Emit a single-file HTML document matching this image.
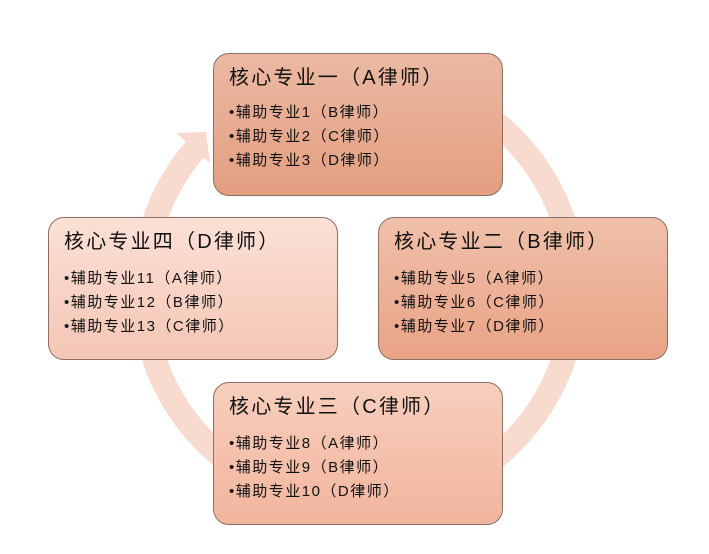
<!DOCTYPE html>
<html><head><meta charset="utf-8"><style>
body{margin:0;width:709px;height:554px;background:#fff;overflow:hidden;position:relative;font-family:"Liberation Sans","Noto Sans CJK SC",sans-serif;color:#111}
.b{position:absolute;width:290px;height:143px;border:1px solid #8c6e64;border-radius:16px;box-sizing:border-box}
.t{position:absolute;left:15px;top:11px;font-size:20px;line-height:26px;white-space:nowrap;letter-spacing:2.2px}
.i{position:absolute;left:15px;font-size:15px;line-height:20px;white-space:nowrap;letter-spacing:1.5px}
</style></head><body>
<svg width="709" height="554" style="position:absolute;left:0;top:0">
<path d="M285.1 87 A216 216 0 1 1 197.2 146.8" fill="none" stroke="#f8dacf" stroke-width="24"/>
<polygon points="176,133 206,132 210,163" fill="#f8dacf"/>
</svg>
<div class="b" style="left:213px;top:53px;background:linear-gradient(#ebb9a3,#e49e80)">
<div class="t">核心专业一（A律师）</div>
<div class="i" style="top:49px">•辅助专业1（B律师）</div>
<div class="i" style="top:73px">•辅助专业2（C律师）</div>
<div class="i" style="top:97px">•辅助专业3（D律师）</div></div>
<div class="b" style="left:378px;top:217px;background:linear-gradient(#f0c0aa,#e9a385)">
<div class="t">核心专业二（B律师）</div>
<div class="i" style="top:51px">•辅助专业5（A律师）</div>
<div class="i" style="top:75px">•辅助专业6（C律师）</div>
<div class="i" style="top:99px">•辅助专业7（D律师）</div></div>
<div class="b" style="left:48px;top:217px;background:linear-gradient(#fbe0d6,#f5c6b4)">
<div class="t">核心专业四（D律师）</div>
<div class="i" style="top:51px">•辅助专业11（A律师）</div>
<div class="i" style="top:75px">•辅助专业12（B律师）</div>
<div class="i" style="top:99px">•辅助专业13（C律师）</div></div>
<div class="b" style="left:213px;top:382px;background:linear-gradient(#f7cebd,#f2b59d)">
<div class="t">核心专业三（C律师）</div>
<div class="i" style="top:51px">•辅助专业8（A律师）</div>
<div class="i" style="top:75px">•辅助专业9（B律师）</div>
<div class="i" style="top:99px">•辅助专业10（D律师）</div></div>
</body></html>
